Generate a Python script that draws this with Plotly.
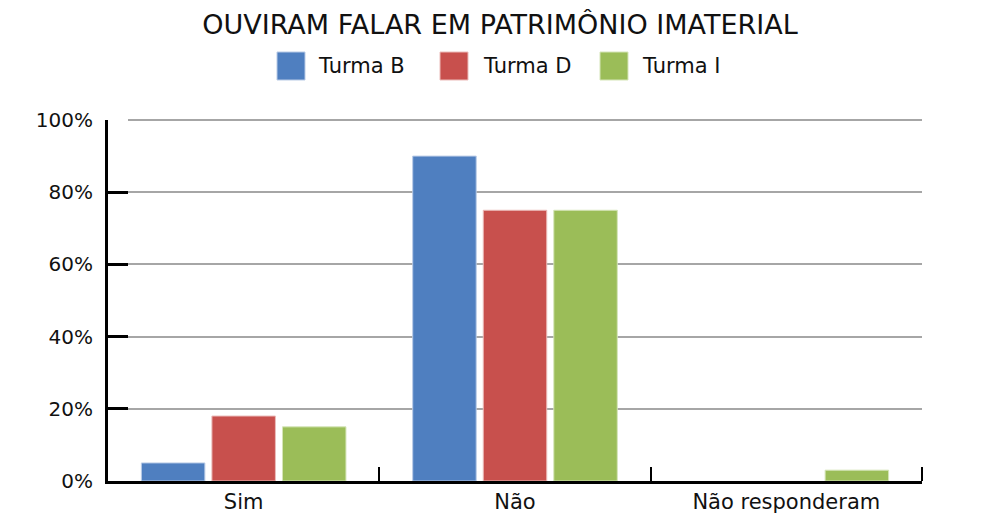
import plotly.graph_objects as go

categories = ["Sim", "Não", "Não responderam"]
series_names = ["Turma B", "Turma D", "Turma I"]
turma_b = [5, 90, 0]
turma_d = [18, 75, 0]
turma_i = [15, 75, 3]
colors = ["#4F7FC0", "#C8504D", "#9BBD58"]
outline = ["#B9CBE6", "#EBBCBA", "#D5E5B8"]
title_text = "OUVIRAM FALAR EM PATRIMÔNIO IMATERIAL"
y_ticks = [0, 20, 40, 60, 80, 100]
y_ticktext = [f"{v}%" for v in y_ticks]

FONT = "DejaVu Sans"
W, H = 1000, 519
OFF = 8  # page body margin offset
# plot area in page pixels: x 108..922, y 120..481
L, R, T, B = 108 - OFF, W - 922 + OFF, 120 - OFF, H - 481 + OFF
PW, PH = W - L - R, H - T - B


def px(x):
    return (x - OFF - L) / PW


def py(y):
    return (H - B - (y - OFF)) / PH


fig = go.Figure()
for name, vals, c, oc in zip(series_names, [turma_b, turma_d, turma_i], colors, outline):
    fig.add_trace(go.Bar(
        name=name, x=categories, y=vals,
        marker=dict(color=c, line=dict(color=oc, width=[1 if v > 0 else 0 for v in vals])),
        showlegend=False,
    ))

# manual legend (larger swatches than plotly's built-in legend)
leg_sw_x = [277, 440, 600]
leg_tx_x = [316, 481, 640]
for name, c, oc, sx, tx in zip(series_names, colors, outline, leg_sw_x, leg_tx_x):
    fig.add_shape(type="rect", xref="paper", yref="paper",
                  x0=px(sx), x1=px(sx + 28), y0=py(80), y1=py(52),
                  fillcolor=c, line=dict(color=oc, width=1))
    fig.add_annotation(text=name, xref="paper", yref="paper",
                       x=px(tx), y=py(66), xanchor="left", yanchor="middle",
                       showarrow=False,
                       font=dict(size=21, family=FONT, color="#111111"))

# closing tick at the right end of the category axis
fig.add_shape(type="line", xref="paper", yref="paper",
              x0=1, x1=1, y0=0, y1=14 / PH,
              line=dict(color="black", width=2))
# top gridline (at the upper edge of the plot area)
fig.add_shape(type="line", xref="paper", yref="paper",
              x0=px(128), x1=1, y0=1, y1=1,
              line=dict(color="#A6A6A6", width=2), layer="below")

fig.update_layout(
    width=W, height=H,
    paper_bgcolor="white", plot_bgcolor="white",
    margin=dict(l=L, r=R, t=T, b=B, autoexpand=False),
    barmode="group", bargap=0.22, bargroupgap=0.1,
    font=dict(family=FONT, color="#111111"),
    title=dict(text=title_text, x=(500 - OFF) / W, xanchor="center",
               y=1 - (25 - OFF) / H, yanchor="middle", yref="container",
               font=dict(size=27, family=FONT, color="#111111")),
    showlegend=False,
)

fig.update_yaxes(
    range=[0, 100], tickmode="array", tickvals=y_ticks, ticktext=y_ticktext,
    showgrid=True, gridcolor="#A6A6A6", gridwidth=2,
    showline=True, linecolor="black", linewidth=3,
    ticks="inside", ticklen=20, tickwidth=3, tickcolor="black",
    tickfont=dict(size=20, family=FONT, color="#111111"),
    ticklabelstandoff=8,
    zeroline=False, automargin=False,
)
fig.update_xaxes(
    showline=True, linecolor="black", linewidth=3,
    ticks="inside", ticklen=14, tickwidth=2, tickcolor="black",
    tickson="boundaries",
    tickfont=dict(size=21, family=FONT, color="#111111"),
    showgrid=False, automargin=False,
)

fig.write_html("out.html")
